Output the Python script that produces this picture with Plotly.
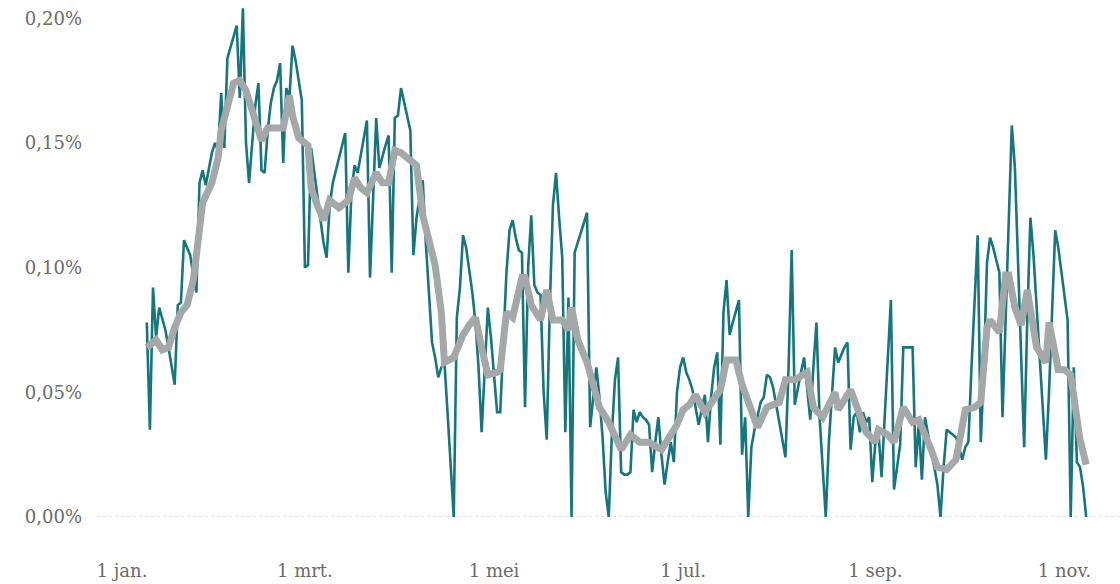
import pandas as pd
import plotly.graph_objects as go

# Daily share (%) starting 9 Jan 2021
first_date = "2021-01-09"
daily_pct = [
    0.078, 0.035, 0.092, 0.072, 0.084, 0.080, 0.075, 0.068, 0.060, 0.053,
    0.085, 0.086, 0.111, 0.108, 0.105, 0.097, 0.090, 0.134, 0.139, 0.133,
    0.140, 0.146, 0.150, 0.147, 0.170, 0.148, 0.184, 0.188, 0.193, 0.197,
    0.168, 0.204, 0.150, 0.134, 0.150, 0.165, 0.174, 0.139, 0.138, 0.155,
    0.166, 0.172, 0.175, 0.182, 0.142, 0.172, 0.168, 0.189, 0.183, 0.175,
    0.167, 0.100, 0.101, 0.148, 0.138, 0.128, 0.118, 0.110, 0.104, 0.125,
    0.134, 0.139, 0.144, 0.149, 0.154, 0.098, 0.130, 0.141, 0.138, 0.145,
    0.152, 0.159, 0.096, 0.130, 0.160, 0.140, 0.145, 0.149, 0.153, 0.098,
    0.160, 0.161, 0.172, 0.166, 0.160, 0.155, 0.105, 0.120, 0.128, 0.135,
    0.110, 0.090, 0.070, 0.064, 0.056, 0.060, 0.062, 0.042, 0.022, 0.000,
    0.080, 0.092, 0.113, 0.108, 0.099, 0.090, 0.078, 0.060, 0.034, 0.060,
    0.084, 0.072, 0.058, 0.042, 0.042, 0.070, 0.098, 0.115, 0.119, 0.112,
    0.107, 0.106, 0.044, 0.100, 0.121, 0.093, 0.090, 0.089, 0.050, 0.031,
    0.085, 0.125, 0.138, 0.120, 0.104, 0.034, 0.088, 0.000, 0.106, 0.110,
    0.114, 0.118, 0.122, 0.036, 0.048, 0.060, 0.048, 0.032, 0.010, 0.000,
    0.033, 0.055, 0.064, 0.018, 0.017, 0.017, 0.018, 0.043, 0.038, 0.042,
    0.040, 0.039, 0.037, 0.018, 0.030, 0.040, 0.025, 0.013, 0.022, 0.030,
    0.022, 0.050, 0.060, 0.064, 0.058, 0.055, 0.051, 0.044, 0.037, 0.043,
    0.049, 0.030, 0.048, 0.060, 0.066, 0.029, 0.082, 0.095, 0.073, 0.078,
    0.083, 0.087, 0.025, 0.040, 0.000, 0.028, 0.035, 0.040, 0.046, 0.048,
    0.057, 0.056, 0.052, 0.045, 0.038, 0.032, 0.024, 0.060, 0.107, 0.045,
    0.052, 0.058, 0.064, 0.050, 0.039, 0.060, 0.078, 0.040, 0.020, 0.000,
    0.030, 0.050, 0.068, 0.062, 0.065, 0.068, 0.070, 0.027, 0.040, 0.042,
    0.034, 0.042, 0.038, 0.040, 0.014, 0.030, 0.034, 0.016, 0.040, 0.065,
    0.087, 0.011, 0.020, 0.029, 0.068, 0.068, 0.068, 0.068, 0.020, 0.038,
    0.015, 0.040, 0.033, 0.027, 0.020, 0.013, 0.000, 0.020, 0.035, 0.034,
    0.033, 0.032, 0.028, 0.023, 0.028, 0.030, 0.060, 0.090, 0.113, 0.030,
    0.060, 0.102, 0.112, 0.108, 0.103, 0.098, 0.040, 0.080, 0.120, 0.157,
    0.140, 0.100, 0.060, 0.028, 0.080, 0.120, 0.105, 0.085, 0.065, 0.045,
    0.023, 0.050, 0.085, 0.115, 0.108, 0.098, 0.088, 0.079, 0.000, 0.060,
    0.022, 0.020, 0.012, 0.000,
]

# 7-day average (%) read at day offsets from 1 Jan 2021
ma_day = [
    8, 11, 13, 15, 17, 19, 21, 23, 24, 25, 26, 29, 31, 32, 34, 36, 38, 40, 45, 47,
    52, 53, 54, 55, 57, 60, 61, 63, 65, 67, 70, 73, 75, 77, 79, 82, 84, 86, 88, 90,
    94, 95, 97, 101, 103, 104, 107, 110, 112, 114, 116, 118, 121, 122, 124, 126, 129, 130, 132, 135,
    137, 139, 142, 144, 145, 147, 150, 154, 157, 161, 164, 167, 170, 174, 179, 181, 183, 185, 188, 193,
    195, 198, 200, 203, 205, 208, 212, 214, 217, 221, 223, 226, 230, 231, 235, 240, 243, 244, 247, 249,
    252, 255, 257, 261, 263, 266, 269, 272, 275, 277, 279, 280, 283, 285, 286, 288, 290, 292, 295, 298,
    299, 302, 304, 306, 309, 311,
]
ma_pct = [
    0.068, 0.071, 0.067, 0.068, 0.076, 0.082, 0.085, 0.095, 0.105, 0.116, 0.126, 0.134, 0.144, 0.155, 0.166, 0.174, 0.175, 0.171, 0.151, 0.156,
    0.156, 0.165, 0.169, 0.161, 0.152, 0.149, 0.132, 0.125, 0.119, 0.127, 0.124, 0.127, 0.136, 0.132, 0.130, 0.138, 0.134, 0.134, 0.147, 0.146,
    0.142, 0.141, 0.121, 0.101, 0.082, 0.062, 0.064, 0.073, 0.077, 0.080, 0.068, 0.057, 0.058, 0.059, 0.082, 0.080, 0.096, 0.096, 0.085, 0.079,
    0.091, 0.079, 0.079, 0.075, 0.084, 0.071, 0.062, 0.044, 0.038, 0.027, 0.033, 0.030, 0.030, 0.027, 0.037, 0.043, 0.045, 0.049, 0.042, 0.051,
    0.063, 0.063, 0.053, 0.042, 0.036, 0.044, 0.046, 0.055, 0.055, 0.058, 0.044, 0.040, 0.050, 0.043, 0.051, 0.034, 0.030, 0.035, 0.033, 0.030,
    0.044, 0.038, 0.039, 0.027, 0.020, 0.019, 0.023, 0.043, 0.044, 0.046, 0.076, 0.079, 0.074, 0.097, 0.097, 0.084, 0.077, 0.091, 0.068, 0.062,
    0.078, 0.059, 0.059, 0.057, 0.031, 0.021,
]

tick_dates = ["2021-01-01", "2021-03-01", "2021-05-01", "2021-07-01", "2021-09-01", "2021-11-01"]
tick_text = ["1 jan.", "1 mrt.", "1 mei", "1 jul.", "1 sep.", "1 nov."]
y_ticks = [0.0, 0.05, 0.10, 0.15, 0.20]
y_tick_text = ["0,00%", "0,05%", "0,10%", "0,15%", "0,20%"]

base = pd.Timestamp("2021-01-01")
daily_dates = pd.date_range(first_date, periods=len(daily_pct), freq="D")
ma_dates = [base + pd.Timedelta(days=d) for d in ma_day]

TEAL = "#17767c"
GREY = "#a5a8a8"
LABEL = "#6b6b6b"
FONT = "DejaVu Serif"

fig = go.Figure()
fig.add_trace(go.Scatter(x=daily_dates, y=daily_pct, mode="lines",
                         line=dict(color=TEAL, width=2.6), hoverinfo="skip"))
fig.add_trace(go.Scatter(x=ma_dates, y=ma_pct, mode="lines",
                         line=dict(color=GREY, width=7), hoverinfo="skip"))

x_start = base - pd.Timedelta(days=8.06)
x_end = base + pd.Timedelta(days=321.9)

fig.add_shape(type="line", xref="paper", yref="y", x0=0, x1=1, y0=0, y1=0,
              line=dict(color="#c8c8c8", width=1, dash="dot"), layer="below")

fig.update_layout(
    width=1120, height=584,
    margin=dict(l=97, r=0, t=5, b=67),
    paper_bgcolor="white", plot_bgcolor="white",
    showlegend=False,
    font=dict(family=FONT, size=18, color=LABEL),
    xaxis=dict(range=[x_start, x_end], tickvals=tick_dates, ticktext=tick_text,
               showgrid=False, zeroline=False, showline=False, ticks="",
               ticklabelstandoff=41, tickfont=dict(family=FONT, size=18, color=LABEL)),
    yaxis=dict(range=[0, 0.2053], tickvals=y_ticks, ticktext=y_tick_text,
               showgrid=False, zeroline=False, showline=False, ticks="",
               ticklabelstandoff=14, tickfont=dict(family=FONT, size=18, color=LABEL)),
)

fig.write_html("out.html", config={"displayModeBar": False},
               post_script="document.body.style.margin='0';")
